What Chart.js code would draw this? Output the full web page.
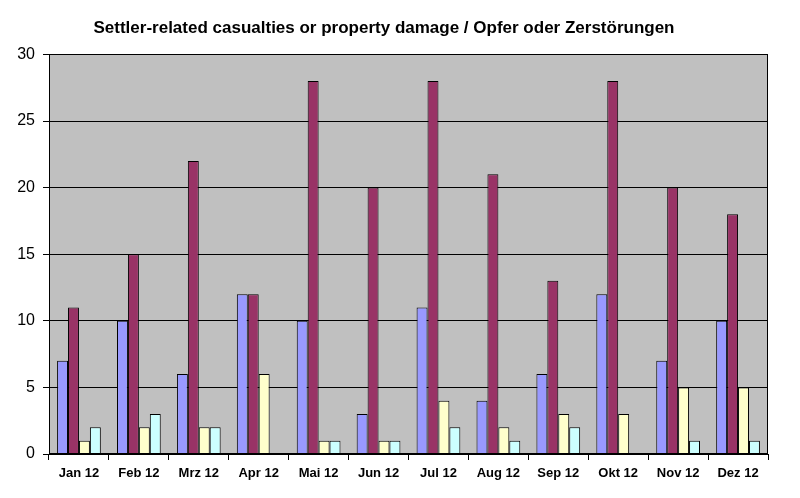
<!DOCTYPE html>
<html>
<head>
<meta charset="utf-8">
<script src="https://cdn.jsdelivr.net/npm/chart.js@4.4.1/dist/chart.umd.min.js"></script>
<style>
html,body{margin:0;padding:0;background:#fff;}
#wrap{width:800px;height:498px;}
</style>
</head>
<body>
<div id="wrap"><canvas id="c" width="800" height="498"></canvas></div>
<script>
const categories = ["Jan 12","Feb 12","Mrz 12","Apr 12","Mai 12","Jun 12","Jul 12","Aug 12","Sep 12","Okt 12","Nov 12","Dez 12"];
const seriesBlue = [7,10,6,12,10,3,11,4,6,12,7,10];
const seriesMaroon = [11,15,22,12,28,20,28,21,13,28,20,18];
const seriesYellow = [1,2,2,6,1,1,4,2,3,3,5,5];
const seriesCyan = [2,3,2,0,1,1,2,1,2,0,1,1];
const titleText = "Settler-related casualties or property damage / Opfer oder Zerstörungen";

const plotBg = {
  id: 'plotBg',
  beforeDraw(chart) {
    const {ctx, chartArea: a} = chart;
    ctx.save();
    ctx.fillStyle = '#C0C0C0';
    ctx.fillRect(a.left, a.top, a.right - a.left, a.bottom - a.top);
    ctx.restore();
  },
  afterDraw(chart) {
    const {ctx, chartArea: a} = chart;
    ctx.save();
    ctx.strokeStyle = '#000';
    ctx.lineWidth = 1;
    ctx.strokeRect(Math.round(a.left) + 0.5, Math.round(a.top) + 0.5, Math.round(a.right - a.left) - 1, Math.round(a.bottom - a.top) - 1);
    ctx.restore();
  }
};

const mk = (data, color) => ({
  data, backgroundColor: color, borderColor: '#000', borderWidth: 1,
  categoryPercentage: 0.73, barPercentage: 1.0
});

new Chart(document.getElementById('c'), {
  type: 'bar',
  data: {
    labels: categories,
    datasets: [
      mk(seriesBlue, '#9999FF'),
      mk(seriesMaroon, '#993366'),
      mk(seriesYellow, '#FFFFCC'),
      mk(seriesCyan, '#CCFFFF')
    ]
  },
  options: {
    responsive: false,
    animation: false,
    events: [],
    layout: { padding: { left: 0, right: 32, top: 0, bottom: 0 } },
    plugins: {
      legend: { display: false },
      tooltip: { enabled: false },
      title: {
        display: true,
        text: titleText,
        color: '#000',
        font: { family: 'Liberation Sans, Arial, sans-serif', size: 17, weight: 'bold' },
        padding: { top: 18, bottom: 16 }
      }
    },
    scales: {
      x: {
        offset: true,
        grid: { offset: true, drawOnChartArea: false, drawTicks: true, tickLength: 6, color: '#000', lineWidth: 1 },
        border: { color: '#000', width: 1 },
        ticks: { color: '#000', padding: 6, maxRotation: 0, font: { family: 'Liberation Sans, Arial, sans-serif', size: 13, weight: 'bold' } },
        afterFit(s) { s.height = 44; }
      },
      y: {
        min: 0, max: 30,
        ticks: { stepSize: 5, color: '#000', padding: 8, font: { family: 'Liberation Sans, Arial, sans-serif', size: 16 } },
        grid: { color: '#000', lineWidth: 1, tickLength: 6 },
        border: { color: '#000', width: 1 },
        afterFit(s) { s.width = 49; }
      }
    }
  },
  plugins: [plotBg]
});
</script>
</body>
</html>
